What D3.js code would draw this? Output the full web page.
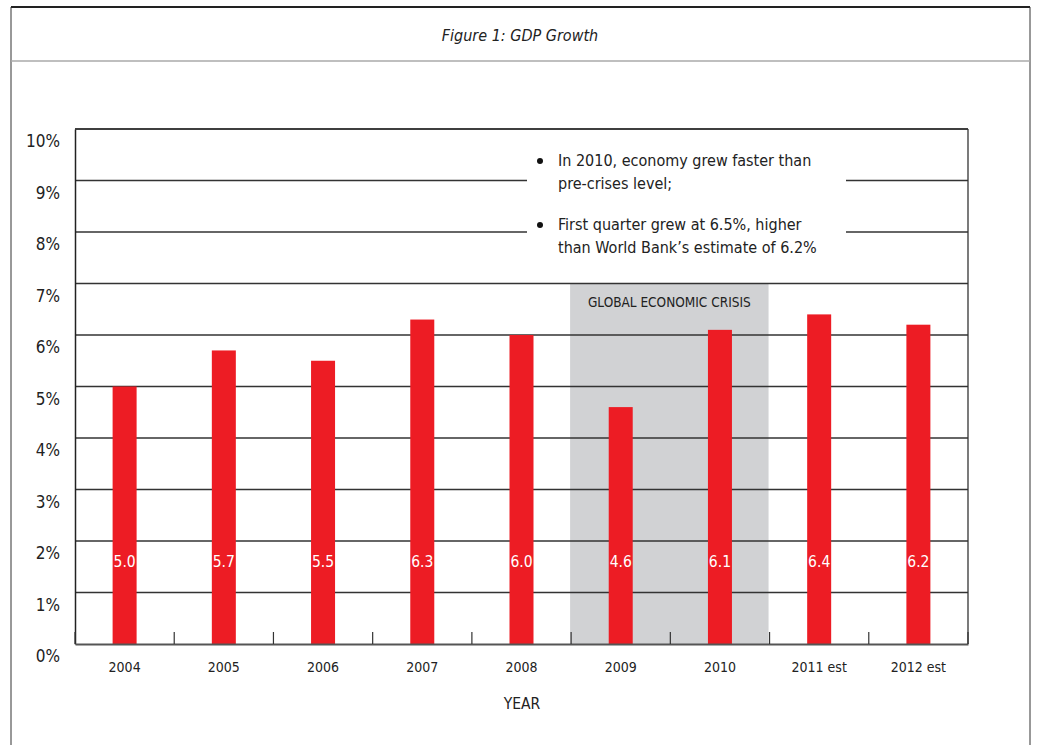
<!DOCTYPE html>
<html>
<head>
<meta charset="utf-8">
<script src="https://cdn.jsdelivr.net/npm/d3@7"></script>
<style>
  body { margin: 0; background: #fff; }
  text { font-family: "DejaVu Sans Condensed", "Liberation Sans Narrow", sans-serif; fill: #222; }
</style>
</head>
<body>
<div id="chart"></div>
<script>
const years = ["2004", "2005", "2006", "2007", "2008", "2009", "2010", "2011 est", "2012 est"];
const growth = [5.0, 5.7, 5.5, 6.3, 6.0, 4.6, 6.1, 6.4, 6.2];
const yTicks = [0, 1, 2, 3, 4, 5, 6, 7, 8, 9, 10];
const crisisYears = ["2009", "2010"];
const notes = [
  ["In 2010, economy grew faster than", "pre-crises level;"],
  ["First quarter grew at 6.5%, higher", "than World Bank\u2019s estimate of 6.2%"]
];

const width = 1037,
  height = 745,
  plotLeft = 75,
  plotRight = 968,
  plotTop = 129,
  plotBottom = 644;

const svg = d3
  .select("#chart")
  .append("svg")
  .attr("width", width)
  .attr("height", height);

// frame + title
svg.append("line").attr("x1", 11).attr("x2", 1030).attr("y1", 7).attr("y2", 7)
  .attr("stroke", "#222").attr("stroke-width", 2);
svg.append("line").attr("x1", 11).attr("x2", 11).attr("y1", 7).attr("y2", height)
  .attr("stroke", "#333").attr("stroke-width", 1);
svg.append("line").attr("x1", 1030).attr("x2", 1030).attr("y1", 7).attr("y2", height)
  .attr("stroke", "#333").attr("stroke-width", 1);
svg.append("line").attr("x1", 11).attr("x2", 1030).attr("y1", 61).attr("y2", 61)
  .attr("stroke", "#aaa").attr("stroke-width", 1.5);
svg.append("text")
  .text("Figure 1: GDP Growth")
  .attr("x", 520)
  .attr("y", 41)
  .attr("text-anchor", "middle")
  .attr("font-style", "italic")
  .attr("font-size", 16);

const x = d3.scaleBand().domain(years).range([plotLeft, plotRight]).paddingInner(0).paddingOuter(0);
const y = d3.scaleLinear().domain([0, 10]).range([plotBottom, plotTop]);

// crisis shading
const cx0 = x(crisisYears[0]);
const cx1 = x(crisisYears[crisisYears.length - 1]) + x.bandwidth();
svg.append("rect")
  .attr("x", cx0 - 1)
  .attr("y", y(7))
  .attr("width", cx1 - cx0)
  .attr("height", y(0) - y(7))
  .attr("fill", "#d1d2d4");

// gridlines
svg.append("g")
  .selectAll("line")
  .data(yTicks.filter((d) => d > 0))
  .enter()
  .append("line")
  .attr("x1", plotLeft)
  .attr("x2", plotRight)
  .attr("y1", (d) => y(d))
  .attr("y2", (d) => y(d))
  .attr("stroke", "#333")
  .attr("stroke-width", 1.3);

// annotation box (white, covers gridlines)
svg.append("rect")
  .attr("x", 527)
  .attr("y", 140)
  .attr("width", 319)
  .attr("height", 128)
  .attr("fill", "#fff");

const note = svg.append("g").attr("font-size", 16);
notes.forEach((lines, i) => {
  const y0 = 166 + i * 64;
  note.append("circle").attr("cx", 540).attr("cy", y0 - 5).attr("r", 3).attr("fill", "#111");
  lines.forEach((l, j) => {
    note.append("text").text(l).attr("x", 558).attr("y", y0 + j * 23);
  });
});

svg.append("text")
  .text("GLOBAL ECONOMIC CRISIS")
  .attr("x", (cx0 + cx1) / 2 - 1)
  .attr("y", 307)
  .attr("text-anchor", "middle")
  .attr("font-size", 13.5);

// bars
const barW = 24;
svg.append("g")
  .selectAll("rect")
  .data(growth)
  .enter()
  .append("rect")
  .attr("x", (d, i) => x(years[i]) + x.bandwidth() / 2 - barW / 2)
  .attr("y", (d) => y(d))
  .attr("width", barW)
  .attr("height", (d) => y(0) - y(d))
  .attr("fill", "#ed1c24");

svg.append("g")
  .selectAll("text")
  .data(growth)
  .enter()
  .append("text")
  .text((d) => d.toFixed(1))
  .attr("x", (d, i) => x(years[i]) + x.bandwidth() / 2)
  .attr("y", 567)
  .attr("text-anchor", "middle")
  .attr("font-size", 15.5)
  .style("fill", "#fff");

// axes
const yAxis = d3.axisLeft(y).tickValues(yTicks).tickSize(0).tickPadding(15)
  .tickFormat((d) => d + "%");
const gy = svg.append("g").attr("transform", "translate(" + plotLeft + ",0)").call(yAxis);
gy.select(".domain").attr("stroke", "#222").attr("stroke-width", 1.5);
gy.selectAll(".tick text").attr("font-size", 17).attr("dy", "1.05em").attr("font-family", null);

const xAxis = d3.axisBottom(x).tickSize(0).tickPadding(18);
const gx = svg.append("g").attr("transform", "translate(0," + plotBottom + ")").call(xAxis);
gx.select(".domain").attr("stroke", "#555").attr("stroke-width", 2);
gx.selectAll(".tick text").attr("font-size", 14).attr("font-family", null);

// category separator ticks
svg.append("g")
  .selectAll("line")
  .data(years.concat(["end"]))
  .enter()
  .append("line")
  .attr("x1", (d, i) => (i < years.length ? x(d) : plotRight))
  .attr("x2", (d, i) => (i < years.length ? x(d) : plotRight))
  .attr("y1", plotBottom - 12)
  .attr("y2", plotBottom)
  .attr("stroke", "#333")
  .attr("stroke-width", 1.2);

svg.append("line").attr("x1", plotRight).attr("x2", plotRight).attr("y1", plotTop).attr("y2", plotBottom)
  .attr("stroke", "#333").attr("stroke-width", 1.3);
svg.append("line").attr("x1", plotLeft).attr("x2", plotRight).attr("y1", plotTop).attr("y2", plotTop)
  .attr("stroke", "#333").attr("stroke-width", 1.3);

svg.append("text")
  .text("YEAR")
  .attr("x", 522)
  .attr("y", 709)
  .attr("text-anchor", "middle")
  .attr("font-size", 15.5);
</script>
</body>
</html>
